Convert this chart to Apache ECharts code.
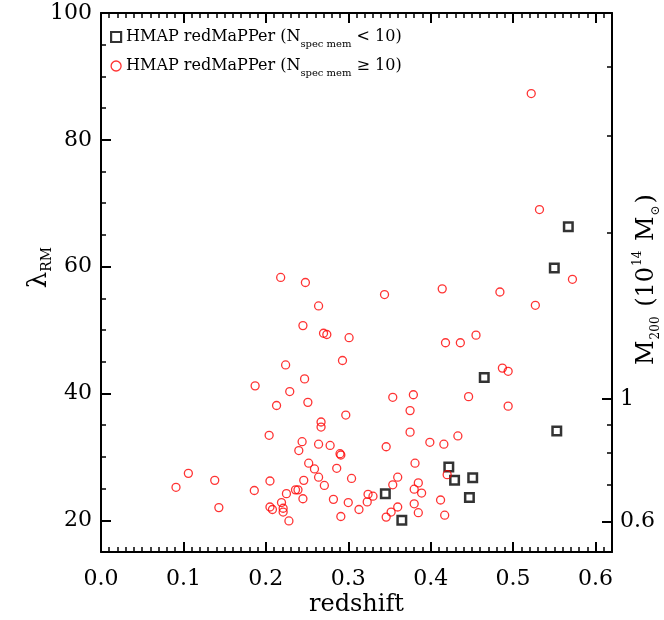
<!DOCTYPE html>
<html><head><meta charset="utf-8">
<script src="https://cdn.jsdelivr.net/npm/echarts@6/dist/echarts.min.js"></script>
<style>html,body{margin:0;padding:0;background:#fff}#c{width:664px;height:620px}</style>
</head><body><div id="c"></div>
<script>
// HMAP redMaPPer clusters with N_spec mem < 10 (black squares)
const lowZ      = [0.567, 0.550, 0.465, 0.553, 0.422, 0.429, 0.451, 0.447, 0.345, 0.365];
const lowLambda = [66.3, 59.8, 42.5, 34.1, 28.4, 26.3, 26.7, 23.6, 24.2, 20.0];

// HMAP redMaPPer clusters with N_spec mem >= 10 (red circles)
const highZ = [
  0.218, 0.248, 0.264, 0.245, 0.270, 0.274, 0.301, 0.293, 0.224, 0.247,
  0.187, 0.229, 0.213, 0.251, 0.297, 0.267, 0.267, 0.204, 0.244, 0.264,
  0.278, 0.240, 0.290, 0.291, 0.252, 0.259, 0.286, 0.264, 0.304, 0.271,
  0.246, 0.205, 0.106, 0.138, 0.091, 0.186, 0.225, 0.236, 0.239, 0.245,
  0.282, 0.300, 0.219, 0.143, 0.205, 0.208, 0.221, 0.221, 0.228, 0.291,
  0.313, 0.487, 0.494, 0.446, 0.494, 0.354, 0.379, 0.375, 0.375, 0.399,
  0.416, 0.433, 0.346, 0.381, 0.420, 0.360, 0.354, 0.385, 0.380, 0.389,
  0.324, 0.330, 0.323, 0.346, 0.352, 0.360, 0.380, 0.385, 0.412, 0.417,
  0.418, 0.436, 0.455, 0.522, 0.532, 0.572, 0.484, 0.414, 0.344, 0.527
];
const highLambda = [
  58.3, 57.5, 53.8, 50.7, 49.5, 49.3, 48.8, 45.2, 44.5, 42.3,
  41.2, 40.3, 38.1, 38.6, 36.6, 35.5, 34.7, 33.4, 32.4, 32.0,
  31.8, 31.0, 30.5, 30.3, 29.0, 28.1, 28.2, 26.8, 26.6, 25.5,
  26.3, 26.2, 27.4, 26.3, 25.2, 24.7, 24.2, 24.8, 24.8, 23.4,
  23.3, 22.8, 22.8, 22.0, 22.1, 21.7, 21.9, 21.3, 19.9, 20.6,
  21.7, 44.0, 43.5, 39.5, 38.0, 39.4, 39.8, 37.3, 33.9, 32.3,
  32.0, 33.3, 31.6, 29.0, 27.2, 26.8, 25.6, 25.9, 24.9, 24.3,
  24.1, 23.8, 22.9, 20.5, 21.3, 22.1, 22.6, 21.2, 23.2, 20.8,
  48.0, 48.0, 49.2, 87.3, 69.0, 58.0, 56.0, 56.5, 55.6, 53.9
];

const xTicks = [0, 0.1, 0.2, 0.3, 0.4, 0.5, 0.6];
const yTicks = [20, 40, 60, 80, 100];
const massMajor = [0.6, 1];
const massMajorLabels = ['0.6', '1'];
const massMinor = [0.7, 0.8, 0.9, 2, 3, 4];

// richness <-> M200 conversion used for the right-hand axis
const lamOfMass = m => 39.1 + 37.8 * Math.log(m);
const massMajorLam = massMajor.map(lamOfMass);
const massMinorLam = massMinor.map(lamOfMass);

const FONT = 'DejaVu Serif';
const black = '#000';
const lineStyle = {color: black, width: 2};
const nameLow = 'HMAP redMaPPer (N_spec mem < 10)';
const nameHigh = 'HMAP redMaPPer (N_spec mem ≥ 10)';
const majorTick = vals => ({show: true, inside: true, length: 10, customValues: vals, lineStyle: {color: black, width: 2}});

function baseAxis(extra) {
  return Object.assign({
    type: 'value',
    nameMoveOverlap: false,
    axisLine: {show: true, onZero: false, lineStyle: lineStyle},
    splitLine: {show: false},
    axisTick: {show: false},
    axisLabel: {show: false}
  }, extra);
}
function minorAxis(extra) {
  return Object.assign({
    type: 'value',
    axisLine: {show: false, onZero: false},
    splitLine: {show: false},
    axisTick: {show: true, inside: true, length: 5, lineStyle: {color: black, width: 1.5}},
    axisLabel: {show: false}
  }, extra);
}

const chart = echarts.init(document.getElementById('c'), null, {renderer: 'canvas'});
chart.setOption({
  backgroundColor: '#fff',
  animation: false,
  textStyle: {fontFamily: FONT, color: black},
  grid: {left: 101, right: 52, top: 13, bottom: 68, containLabel: false, outerBoundsMode: 'none'},
  legend: {
    orient: 'vertical', left: 105, top: 24, itemGap: 9,
    itemWidth: 10, itemHeight: 10,
    data: [
      {name: nameLow, icon: 'rect', itemStyle: {color: 'transparent', borderColor: black, borderWidth: 2.2}},
      {name: nameHigh, icon: 'circle', itemStyle: {color: 'transparent', borderColor: '#ff0000', borderWidth: 1.3}}
    ],
    formatter: n => n === nameLow
      ? '{a|HMAP redMaPPer (N}{s|spec mem}{a| < 10)}'
      : '{a|HMAP redMaPPer (N}{s|spec mem}{a| ≥ 10)}',
    textStyle: {
      fontFamily: FONT, color: black,
      rich: {
        a: {fontFamily: FONT, fontSize: 16, lineHeight: 24, verticalAlign: 'middle', color: black},
        s: {fontFamily: FONT, fontSize: 10, lineHeight: 10, verticalAlign: 'bottom', color: black}
      }
    }
  },
  xAxis: [
    baseAxis({position: 'bottom', min: 0, max: 0.62,
      axisTick: majorTick(xTicks),
      axisLabel: {show: true, customValues: xTicks, formatter: v => v.toFixed(1), fontFamily: FONT, fontSize: 22, color: black, margin: 16},
      name: 'redshift', nameLocation: 'middle', nameGap: 41,
      nameTextStyle: {fontFamily: FONT, fontSize: 24, color: black}}),
    minorAxis({position: 'bottom', min: 0, max: 0.62, interval: 0.01}),
    baseAxis({position: 'top', min: 0, max: 0.62, axisTick: majorTick(xTicks)}),
    minorAxis({position: 'top', min: 0, max: 0.62, interval: 0.01})
  ],
  yAxis: [
    baseAxis({position: 'left', min: 15, max: 100,
      axisTick: majorTick(yTicks),
      axisLabel: {show: true, customValues: yTicks, fontFamily: FONT, fontSize: 22, color: black, margin: 9},
      name: '{l|λ}{s|RM}', nameLocation: 'middle', nameGap: 47,
      nameTextStyle: {
        padding: [0, 0, 0, 30],
        rich: {
          l: {fontFamily: FONT, fontSize: 26, lineHeight: 30, verticalAlign: 'middle', color: black},
          s: {fontFamily: FONT, fontSize: 14, lineHeight: 14, verticalAlign: 'bottom', color: black}
        }
      }}),
    minorAxis({position: 'left', min: 15, max: 100, interval: 5}),
    baseAxis({position: 'right', min: 15, max: 100,
      axisTick: majorTick(massMajorLam),
      axisLabel: {show: true, customValues: massMajorLam, fontFamily: FONT, fontSize: 22, color: black, margin: 8,
        formatter: v => {
          let best = 0;
          massMajorLam.forEach((l, i) => { if (Math.abs(l - v) < Math.abs(massMajorLam[best] - v)) best = i; });
          return massMajorLabels[best];
        }},
      name: '{a|M}{s|200}{a| (10}{p|14}{a| M}{s|⊙}{a|)}', nameLocation: 'middle', nameGap: 20,
      nameTextStyle: {
        padding: [0, 0, 0, 6],
        rich: {
          a: {fontFamily: FONT, fontSize: 24, lineHeight: 30, verticalAlign: 'middle', color: black},
          s: {fontFamily: FONT, fontSize: 12, lineHeight: 12, verticalAlign: 'bottom', color: black, padding: [0, 2, 0, 1]},
          p: {fontFamily: FONT, fontSize: 12, lineHeight: 12, verticalAlign: 'top', color: black, padding: [0, 2, 0, 1]}
        }
      }}),
    minorAxis({position: 'right', min: 15, max: 100,
      axisTick: {show: true, inside: true, length: 5, customValues: massMinorLam, lineStyle: {color: black, width: 1.5}}})
  ],
  series: [
    {
      name: nameLow, type: 'scatter', xAxisIndex: 0, yAxisIndex: 0,
      symbol: 'rect', symbolSize: 8.5,
      itemStyle: {color: 'transparent', borderColor: black, borderWidth: 2.5},
      data: lowZ.map((z, i) => [z, lowLambda[i]]), z: 2
    },
    {
      name: nameHigh, type: 'scatter', xAxisIndex: 0, yAxisIndex: 0,
      symbol: 'circle', symbolSize: 8,
      itemStyle: {color: 'transparent', borderColor: '#ff0000', borderWidth: 1.3},
      data: highZ.map((z, i) => [z, highLambda[i]]), z: 3
    }
  ]
});
</script>
</body></html>
